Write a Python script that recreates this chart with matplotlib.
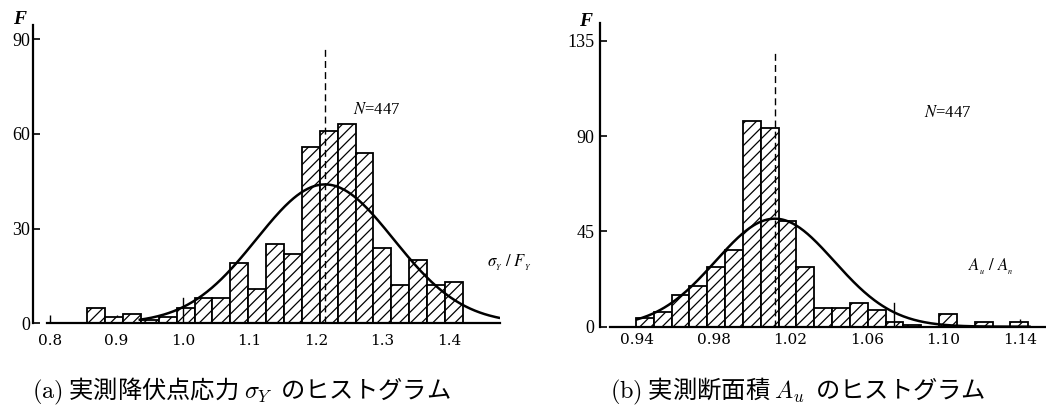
import numpy as np
import matplotlib
matplotlib.use("Agg")
from matplotlib import pyplot as plt

plt.rcParams['mathtext.fontset'] = 'cm'
plt.rcParams['hatch.linewidth'] = 0.9

# (a) sigma_Y / F_Y
a_start = 0.856
a_width = 0.0269
a_counts = [5, 2, 3, 1, 2, 5, 8, 8, 19, 11, 25, 22, 56, 61, 63, 54, 24, 12, 20, 12, 13]
a_mean, a_std, a_peak = 1.2135, 0.103, 44.0
a_xticks = [0.8, 0.9, 1.0, 1.1, 1.2, 1.3, 1.4]
a_xlabels = ["0.8", "0.9", "1.0", "1.1", "1.2", "1.3", "1.4"]
a_yticks = [0, 30, 60, 90]

# (b) A_u / A_n
b_start = 0.9395
b_width = 0.00931
b_counts = [4, 7, 15, 19, 28, 36, 97, 94, 50, 28, 9, 9, 11, 8, 2, 1, 0, 6, 0, 2, 0, 2]
b_mean, b_std, b_peak = 1.012, 0.031, 51.0
b_xticks = [0.94, 0.98, 1.02, 1.06, 1.10, 1.14]
b_xlabels = ["0.94", "0.98", "1.02", "1.06", "1.10", "1.14"]
b_yticks = [0, 45, 90, 135]

W, H = 1046, 416
fig = plt.figure(figsize=(W / 100, H / 100), dpi=100)

ax1 = fig.add_axes([33 / W, (H - 323.3) / H, 467 / W, 298.3 / H])
ax2 = fig.add_axes([600 / W, (H - 326.7) / H, 446 / W, 303.7 / H])


def hist_panel(ax, start, width, counts, mean, std, peak, xlo, xhi, ylim,
               curve_lo, curve_hi, dash_top, mark_x, mark_h, spine_lo,
               xticks, xlabels, yticks, xpad, ypad):
    edges = start + width * np.arange(len(counts))
    ax.bar(edges, counts, width=width, align='edge', color='white',
           edgecolor='black', linewidth=1.3, hatch='///', zorder=2)
    xs = np.linspace(curve_lo, curve_hi, 300)
    ax.plot(xs, peak * np.exp(-(xs - mean) ** 2 / (2 * std ** 2)),
            color='black', lw=1.8, zorder=3)
    ax.plot([mean, mean], [0, dash_top], color='black', lw=1.0,
            ls=(0, (5, 3)), zorder=4)
    ax.plot([mark_x, mark_x], [0, mark_h], color='black', lw=1.0, zorder=4)
    ax.set_xlim(xlo, xhi)
    ax.set_ylim(0, ylim)
    for s in ['top', 'right']:
        ax.spines[s].set_visible(False)
    ax.spines['left'].set_linewidth(1.6)
    ax.spines['bottom'].set_linewidth(1.6)
    ax.spines['bottom'].set_bounds(spine_lo, xhi)
    ax.set_xticks(xticks)
    ax.set_xticklabels(xlabels, family='DejaVu Serif', fontsize=11)
    ax.set_yticks(yticks)
    ax.set_yticklabels([str(v) for v in yticks], family='Liberation Serif', fontsize=13)
    ax.tick_params(axis='x', direction='in', length=6, width=1.0, pad=xpad)
    ax.tick_params(axis='y', direction='in', length=5, width=1.2, pad=ypad)
    ax.patch.set_alpha(0)


hist_panel(ax1, a_start, a_width, a_counts, a_mean, a_std, a_peak,
           0.7744, 1.4767, 94.5, 0.935, 1.475, 88, 1.0, 8, 0.795,
           a_xticks, a_xlabels, a_yticks, 8, 2)
hist_panel(ax2, b_start, b_width, b_counts, b_mean, b_std, b_peak,
           0.9207, 1.1536, 143.4, 0.94, 1.145, 130, 1.074, 11, 0.926,
           b_xticks, b_xlabels, b_yticks, 4.5, 4)

ax1.text(1.256, 67.5, "$N$=447", fontsize=12, family='Liberation Serif',
         math_fontfamily='stix', va='center', ha='left')
ax1.text(1.457, 19, r"$\sigma_{_Y}\ /\ F_{_Y}$", fontsize=12,
         math_fontfamily='stix', va='center', ha='left')
ax2.text(1.090, 101, "$N$=447", fontsize=12, family='Liberation Serif',
         math_fontfamily='stix', va='center', ha='left')
ax2.text(1.113, 28, r"$A_{_u}\ /\ A_{_n}$", fontsize=12,
         math_fontfamily='stix', va='center', ha='left')

fig.text(20 / W, 1 - 19 / H, "F", family='Liberation Serif', style='italic',
         weight='bold', fontsize=14, ha='center', va='center')
fig.text(586 / W, 1 - 21 / H, "F", family='Liberation Serif', style='italic',
         weight='bold', fontsize=14, ha='center', va='center')

cap = ['Noto Sans CJK JP', 'DejaVu Sans']
fig.text(32 / W, 1 - 391 / H, r"$\mathrm{(a)}$ 実測降伏点応力 $\sigma_Y$  のヒストグラム",
         family=cap, fontsize=17.5, ha='left', va='center')
fig.text(610 / W, 1 - 391 / H, r"$\mathrm{(b)}$ 実測断面積 $A_u$  のヒストグラム",
         family=cap, fontsize=17.5, ha='left', va='center')

fig.savefig("out.png", dpi=100)
